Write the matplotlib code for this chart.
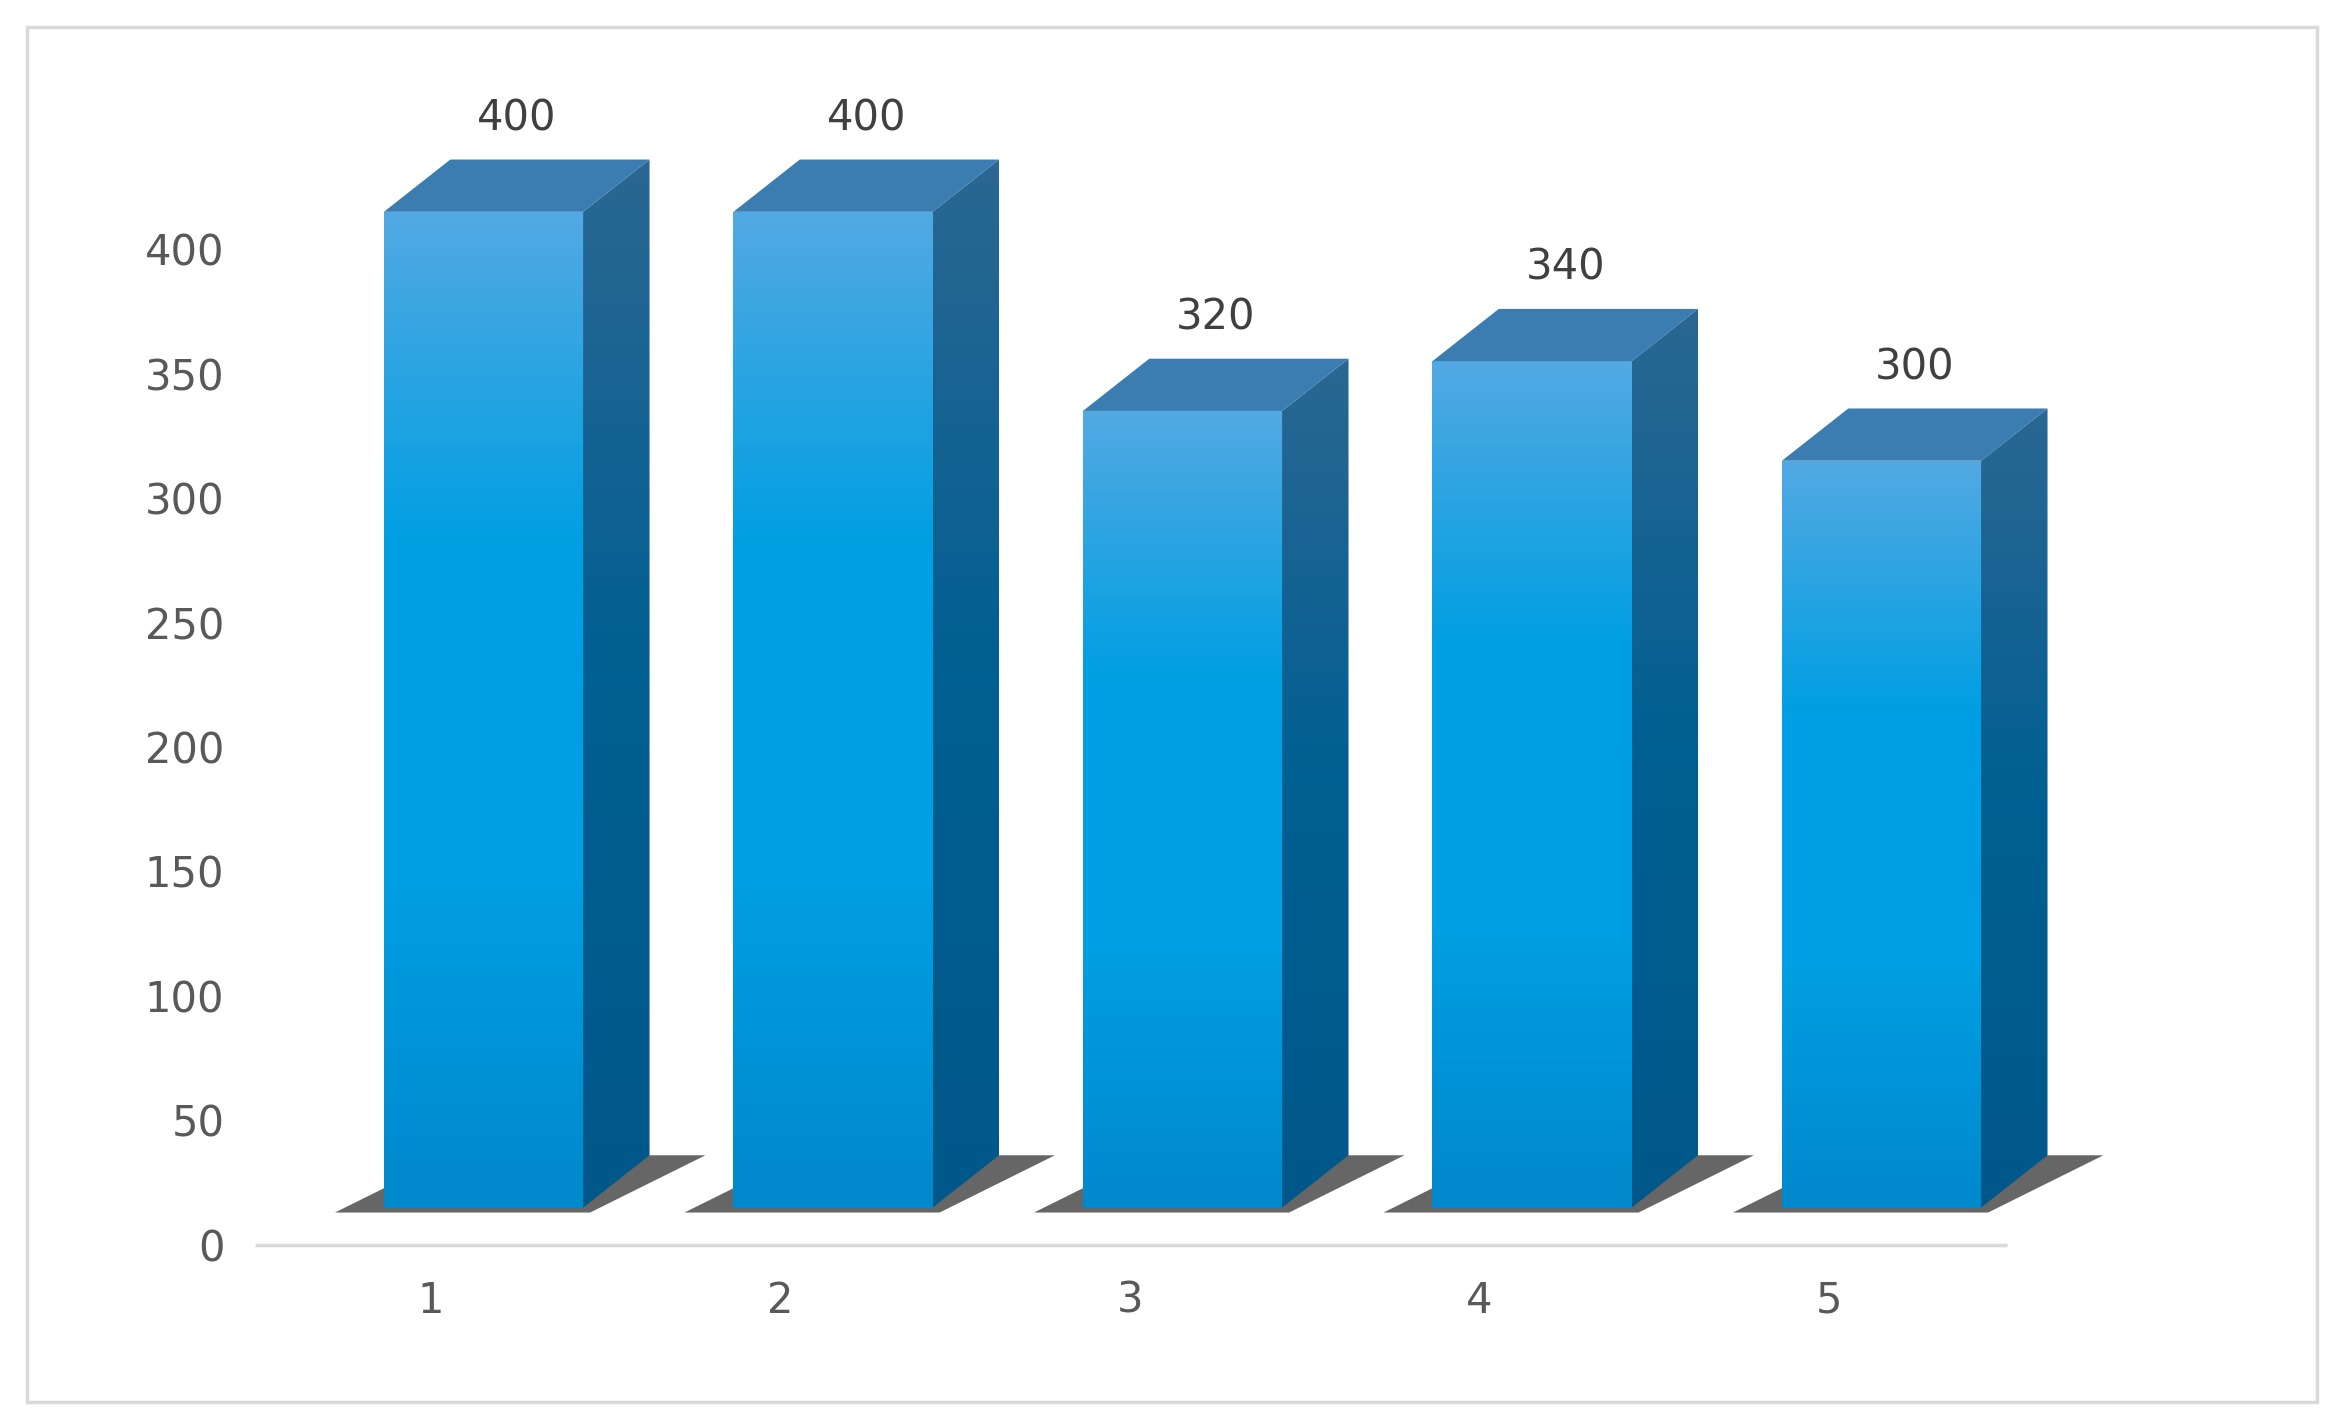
import numpy as np
import matplotlib.pyplot as plt
from matplotlib.patches import Polygon, Rectangle
from matplotlib.colors import LinearSegmentedColormap

categories = ["1", "2", "3", "4", "5"]
values = [400, 400, 320, 340, 300]

width = 0.57
shift = 0.15      # front face offset from tick
floor = 15        # 3D floor height
dx, dy = 0.19, 21  # depth

front_cmap = LinearSegmentedColormap.from_list("front", ["#0088CC", "#009FE3", "#009FE3", "#52A9E2"])
side_cmap = LinearSegmentedColormap.from_list("side", ["#00578A", "#005F92", "#2B6793"])

fig = plt.figure(figsize=(23.39, 14.26), dpi=100)
ax = fig.add_axes([0.109, 0.127, 0.80, 0.81])
ax.set_xlim(0.496, 5.85)
ax.set_ylim(0, 464)

grad = np.linspace(0, 1, 256).reshape(-1, 1)
for i, v in enumerate(values):
    x = i + 1
    x0 = x - width / 2 + shift
    x1 = x0 + width
    top = floor + v
    # shadow
    sh = Polygon([(x0 - 0.14, floor - 2), (x1 + 0.02, floor - 2), (x1 + dx + 0.16, floor + dy),
                  (x0 + dx, floor + dy)], closed=True, color="#333333", alpha=0.75, zorder=1, lw=0)
    ax.add_patch(sh)
    # front face
    im = ax.imshow(grad, extent=[x0, x1, floor, top], origin="lower", cmap=front_cmap,
                   aspect="auto", zorder=3)
    # side face
    side = Polygon([(x1, floor), (x1 + dx, floor + dy), (x1 + dx, top + dy), (x1, top)],
                   closed=True, facecolor="none", lw=0)
    ax.add_patch(side)
    im2 = ax.imshow(grad, extent=[x1, x1 + dx, floor, top + dy], origin="lower", cmap=side_cmap,
                    aspect="auto", zorder=3)
    im2.set_clip_path(side)
    # top face
    ax.add_patch(Polygon([(x0, top), (x1, top), (x1 + dx, top + dy), (x0 + dx, top + dy)],
                         closed=True, facecolor="#3B7DB0", lw=0, zorder=4))
    ax.text((x0 + x1) / 2 + dx / 2, top + dy + 8, str(v), ha="center", va="bottom",
            fontsize=30, color="#404040")

ax.set_xlim(0.496, 5.85)
ax.set_ylim(0, 464)
ax.hlines(0, 0.496, 5.51, color="#D9D9D9", lw=2.5, zorder=0, clip_on=False)
ax.set_yticks(range(0, 401, 50))
ax.set_xticks(range(1, 6))
ax.set_xticklabels(categories)
ax.tick_params(length=0, labelsize=30, labelcolor="#595959")
ax.tick_params(axis="x", pad=25)
ax.tick_params(axis="y", pad=22)
for s in ax.spines.values():
    s.set_visible(False)

fig.patches.append(Rectangle((18 / 1560, 1 - 935 / 951), 1527 / 1560, 917 / 951,
                             transform=fig.transFigure, fill=False, edgecolor="#D9D9D9", lw=2.5))
fig.savefig("out.png", dpi=100)
